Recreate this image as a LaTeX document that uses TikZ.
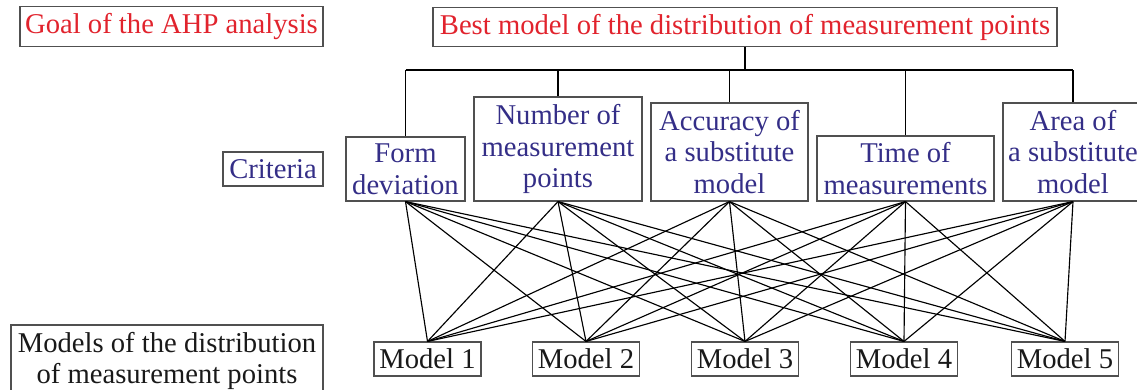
\documentclass[tikz,border=0pt]{standalone}
\usepackage{fontspec}
\setmainfont{Liberation Serif}
\definecolor{goalred}{RGB}{225,35,45}
\definecolor{critblue}{RGB}{52,46,135}
\definecolor{boxgray}{RGB}{80,80,80}
\begin{document}
\begin{tikzpicture}[
  box/.style={draw=boxgray, line width=0.65pt, align=center, inner sep=0pt,
    font=\fontsize{16.3}{18}\selectfont},
  goalbox/.style={box, text=goalred},
  critbox/.style={box, text=critblue},
  modelbox/.style={box, text=black!90, minimum width=2.14cm, minimum height=0.68cm},
  link/.style={line width=0.65pt}
]
  \useasboundingbox
    (0,0)
    rectangle
    (22.74,7.78);
  % goal level
  \node[goalbox, minimum width=6.06cm, minimum height=0.8cm] (goal) at (3.43,7.25) {Goal of the AHP analysis};
  \node[goalbox, minimum width=12.48cm, minimum height=0.78cm] (best) at (14.90,7.24) {Best model of the distribution of measurement points};
  % criteria level
  \node[critbox, minimum width=2.0cm, minimum height=0.68cm] (crit) at (5.46,4.40) {Criteria};
  \node[critbox, minimum width=2.38cm, minimum height=1.28cm] (form) at (8.11,4.40) {Form\\deviation};
  \node[critbox, minimum width=3.36cm, minimum height=2.08cm] (number) at (11.16,4.80) {Number of\\measurement\\points};
  \node[critbox, minimum width=3.14cm, minimum height=1.96cm] (accuracy) at (14.59,4.74) {Accuracy of\\a substitute\\model};
  \node[critbox, minimum width=3.54cm, minimum height=1.30cm] (time) at (18.11,4.41) {Time of\\measurements};
  \node[critbox, minimum width=2.80cm, minimum height=1.96cm] (area) at (21.46,4.74) {Area of\\a substitute\\model};
  % alternatives level
  \node[box, text=black!90, minimum width=6.24cm, minimum height=1.44cm] (models) at (3.34,0.56) {Models of the distribution\\of measurement points};
  \node[modelbox] (m1) at (8.55,0.60) {Model 1};
  \node[modelbox] (m2) at (11.72,0.60) {Model 2};
  \node[modelbox] (m3) at (14.90,0.60) {Model 3};
  \node[modelbox] (m4) at (18.08,0.60) {Model 4};
  \node[modelbox] (m5) at (21.30,0.60) {Model 5};
  % tree from the goal to the criteria
  \coordinate (bus) at (0,6.38);
  \draw[link]
    (best.south)
    --
    (best.south |- bus);
  \draw[link]
    (form.north |- bus)
    --
    (area.north |- bus);
  \foreach \c in {form,number,accuracy,time,area}
    \draw[link]
      (\c.north)
      --
      (\c.north |- bus);
  % every criterion to every model
  \foreach \c in {form,number,accuracy,time,area}
    \foreach \i in {1,...,5}
      \draw[link]
        (\c.south)
        --
        (m\i.north);
\end{tikzpicture}
\end{document}
